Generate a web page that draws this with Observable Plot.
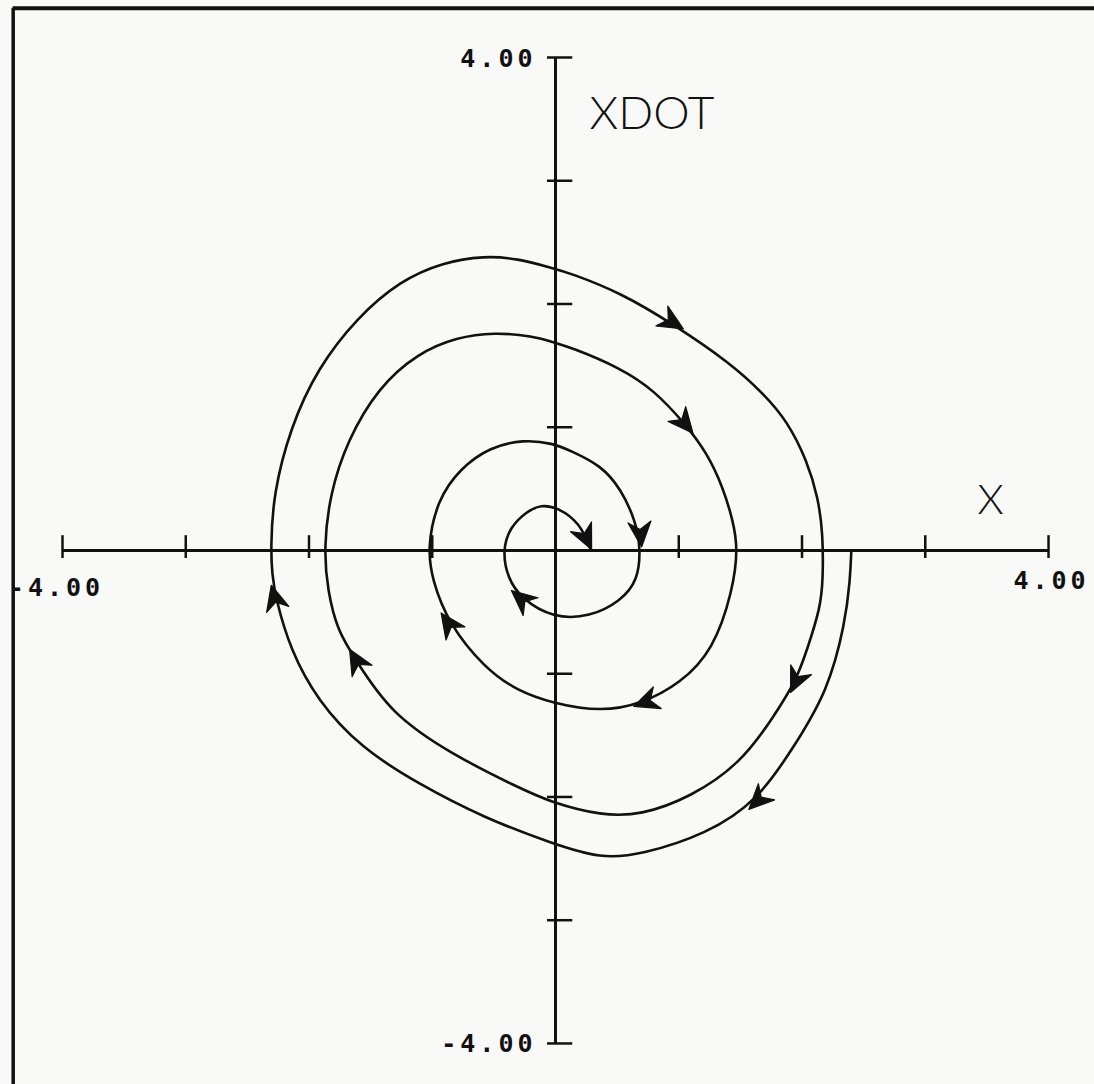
<!DOCTYPE html>
<html><head><meta charset="utf-8">
<script src="https://cdn.jsdelivr.net/npm/d3@7"></script>
<script src="https://cdn.jsdelivr.net/npm/@observablehq/plot@0.6"></script>
<style>
html,body{margin:0;padding:0;background:#f9f9f8;}
svg{display:block}
g[font-family*="Mono"] text{letter-spacing:4px;}
</style>
</head><body><div id="chart"></div>
<script>
// Trajectory (X, XDOT), in drawing order (clockwise, spiralling in)
const trajX = [
  2.40, 2.39, 2.35, 2.21, 1.93, 1.64, 1.23, 0.69, 0.37, -0.02,
  -0.58, -1.12, -1.58, -1.93, -2.15, -2.27, -2.30, -2.31, -2.29, -2.15,
  -1.93, -1.61, -1.26, -0.91, -0.58, -0.31, -0.02, 0.12, 0.53, 0.95,
  1.42, 1.69, 1.88, 2.04, 2.13, 2.17, 2.17, 2.15, 2.04, 1.95,
  1.77, 1.50, 1.10, 0.69, 0.37, -0.02, -0.31, -0.85, -1.34, -1.62,
  -1.77, -1.85, -1.88, -1.83, -1.69, -1.44, -1.12, -0.80, -0.50, -0.18,
  -0.02, 0.12, 0.53, 0.80, 1.05, 1.23, 1.36, 1.44, 1.48, 1.44,
  1.28, 1.01, 0.71, 0.37, -0.02, -0.31, -0.58, -0.87, -1.00, -1.04,
  -0.96, -0.77, -0.53, -0.26, -0.02, 0.12, 0.37, 0.53, 0.65, 0.69,
  0.67, 0.53, 0.28, -0.02, -0.28, -0.39, -0.43, -0.37, -0.23, -0.12,
  0.02, 0.20, 0.28
];
const trajY = [
  0.00, -0.24, -0.59, -1.14, -1.60, -2.03, -2.30, -2.47, -2.50, -2.38,
  -2.17, -1.89, -1.60, -1.22, -0.81, -0.39, -0.19, 0.02, 0.46, 1.00,
  1.48, 1.89, 2.19, 2.34, 2.39, 2.37, 2.29, 2.25, 2.09, 1.84,
  1.52, 1.27, 1.05, 0.73, 0.43, 0.14, -0.24, -0.46, -0.81, -1.06,
  -1.35, -1.73, -2.00, -2.15, -2.15, -2.05, -1.92, -1.65, -1.32, -0.89,
  -0.65, -0.32, 0.02, 0.46, 0.89, 1.32, 1.60, 1.73, 1.77, 1.74,
  1.69, 1.65, 1.48, 1.30, 1.03, 0.79, 0.51, 0.24, 0.02, -0.32,
  -0.81, -1.08, -1.24, -1.31, -1.24, -1.14, -0.95, -0.59, -0.24, 0.02,
  0.41, 0.67, 0.84, 0.90, 0.87, 0.81, 0.69, 0.50, 0.24, 0.02,
  -0.24, -0.41, -0.54, -0.55, -0.39, -0.22, 0.00, 0.19, 0.32, 0.37,
  0.35, 0.22, 0.02
];
// Direction arrowheads: centre position and heading (degrees clockwise from up, on screen)
const arrowX = [1.64, -2.28, 0.95, 1.95, -1.62, 1.05, 0.73, -0.87, 0.69, -0.28, 0.25];
const arrowY = [-2.03, -0.38, 1.85, -1.06, -0.89, 1.03, -1.23, -0.59, 0.13, -0.39, 0.10];
const arrowAngle = [225, 345, 121, 205, 330, 140, 250, 325, 175, 310, 155];

const xTicks = [-4, -3, -2, -1, 1, 2, 3, 4];
const yTicks = [-4, -3, -2, -1, 1, 2, 3, 4];
const xEndValues = [-4, 4];
const xEndLabels = ["-4.00", "4.00"];
const yEndValues = [4, -4];
const yEndLabels = ["4.00", "-4.00"];
const xTitle = "X";
const yTitle = "XDOT";
const frameExtent = 4.4;

const traj = trajX.map((x, i) => ({x, y: trajY[i]}));
const arrows = arrowX.map((x, i) => ({x, y: arrowY[i], a: arrowAngle[i]}));
const xEnds = xEndValues.map((v, i) => ({v, t: xEndLabels[i]}));
const yEnds = yEndValues.map((v, i) => ({v, t: yEndLabels[i]}));

const headShape = {
  draw(ctx, l) {
    const w = l * 0.46;
    ctx.moveTo(0, -l);
    ctx.lineTo(w, 0);
    ctx.lineTo(0, -l * 0.3);
    ctx.lineTo(-w, 0);
    ctx.closePath();
  }
};

const mono = "DejaVu Sans Mono";
const chart = Plot.plot({
  width: 1094,
  height: 1084,
  margin: 0,
  x: {domain: [-4.503, 4.373], axis: null},
  y: {domain: [-4.333, 4.4625], axis: null},
  style: {background: "transparent", color: "#111"},
  marks: [
    Plot.ruleX([-frameExtent], {y1: -frameExtent, y2: frameExtent, strokeWidth: 3.5}),
    Plot.ruleY([frameExtent], {x1: -frameExtent, x2: frameExtent, strokeWidth: 4}),
    Plot.ruleY([0], {x1: -4, x2: 4, strokeWidth: 3}),
    Plot.ruleX([0], {y1: -4, y2: 4, strokeWidth: 3}),
    Plot.ruleX(xTicks, {x: d => d, y1: -0.065, y2: 0.12, strokeWidth: 2.5}),
    Plot.ruleY(yTicks, {y: d => d, x1: -0.065, x2: 0.14, strokeWidth: 2.5}),
    Plot.line(traj, {x: "x", y: "y", curve: "basis", strokeWidth: 2.6}),
    Plot.vector(arrows, {x: "x", y: "y", rotate: "a", length: 25, anchor: "middle",
      shape: headShape, fill: "#111", stroke: "#111", strokeWidth: 1.2}),
    Plot.text(xEnds.slice(0, 1), {x: "v", y: 0, text: "t", dy: 38, dx: -6,
      fontFamily: mono, fontWeight: "bold", fontSize: 25}),
    Plot.text(xEnds.slice(1), {x: "v", y: 0, text: "t", dy: 31, dx: 3,
      fontFamily: mono, fontWeight: "bold", fontSize: 25}),
    Plot.text(yEnds, {x: 0, y: "v", text: "t", textAnchor: "end", dx: -19, dy: 1,
      fontFamily: mono, fontWeight: "bold", fontSize: 25}),
    Plot.text([yTitle], {x: 0, y: 4, text: d => d, textAnchor: "start", dx: 34, dy: 57,
      fontFamily: "Lato", fontWeight: 300, fontSize: 46}),
    Plot.text([xTitle], {x: 4, y: 0, text: d => d, dx: -58, dy: -50,
      fontFamily: "Lato", fontWeight: 300, fontSize: 42})
  ]
});
document.getElementById("chart").appendChild(chart);
</script>
</body></html>
